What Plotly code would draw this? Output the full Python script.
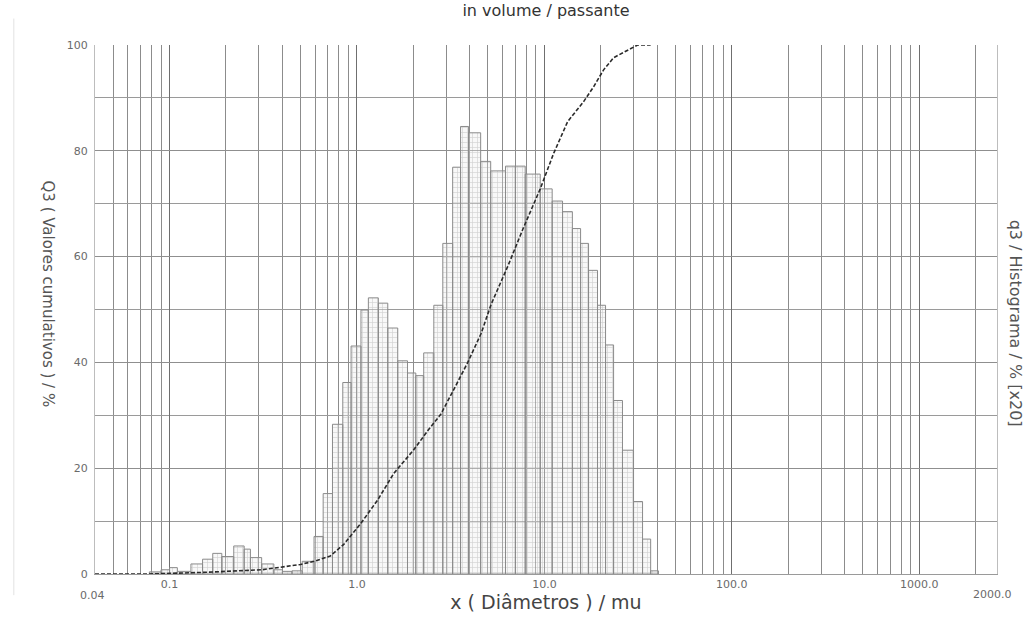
import plotly.graph_objects as go

# Particle size classes (µm) and histogram values q3 (scaled x20, %)
class_edges = [0.078, 0.090, 0.10, 0.11, 0.13, 0.15, 0.17, 0.19, 0.22, 0.25,
               0.27, 0.31, 0.36, 0.40, 0.45, 0.51, 0.59, 0.66, 0.74, 0.84,
               0.93, 1.05, 1.15, 1.30, 1.46, 1.65, 1.86, 2.06, 2.27, 2.57,
               2.87, 3.24, 3.57, 3.94, 4.57, 5.17, 6.2, 7.0, 7.9, 9.5,
               11.0, 12.5, 14.1, 15.6, 17.2, 19.2, 21.2, 23.4, 26.1, 29.9,
               33.4, 36.9, 40.6]
q3_hist = [0.4, 0.8, 1.2, 0.5, 1.9, 2.8, 3.9, 3.3, 5.3, 4.7,
           3.1, 1.9, 0.8, 0.5, 0.6, 2.4, 7.1, 15.2, 28.3, 36.2,
           43.1, 49.9, 52.2, 51.2, 46.5, 40.3, 38.0, 37.5, 41.8, 50.8,
           62.5, 76.9, 84.6, 83.4, 78.0, 76.2, 77.1, 77.1, 75.6, 72.8,
           70.5, 68.5, 65.3, 62.5, 57.4, 50.8, 43.3, 32.8, 23.4, 13.7,
           6.6, 0.6]

# Cumulative passing curve Q3 (%)
cum_size = [0.04, 0.077, 0.15, 0.31, 0.50, 0.59, 0.72, 0.85, 1.05, 1.29,
            1.57, 2.0, 2.4, 2.8, 3.3, 3.9, 4.6, 5.2, 6.4, 7.7,
            9.5, 11.2, 13.3, 16.2, 18.3, 20.7, 23.4, 27.8, 31.4, 36.9]
cum_q3 = [0, 0, 0.3, 0.8, 1.8, 2.4, 3.4, 5.6, 9.6, 14,
          19, 23.4, 27.2, 30.2, 35, 40, 45.5, 51, 58.3, 65.3,
          72.8, 79.5, 85.5, 89.3, 92.1, 95.3, 97.6, 99, 100, 100]

y_ticks = [0, 20, 40, 60, 80, 100]

# Each histogram class as a closed outlined rectangle
bx, by = [], []
for lo, hi, h in zip(class_edges[:-1], class_edges[1:], q3_hist):
    bx += [lo, lo, hi, hi, lo, None]
    by += [0, h, h, 0, 0, None]

fig = go.Figure()
fig.add_trace(go.Scatter(
    x=bx, y=by, mode="lines", fill="toself",
    line=dict(color="#8a8a8a", width=1),
    fillcolor="rgba(225,225,225,0.35)",
    fillpattern=dict(shape="+", size=5, solidity=0.25,
                     fgcolor="rgba(150,150,150,0.75)", bgcolor="rgba(235,235,235,0.35)"),
    hoverinfo="skip", showlegend=False,
))
fig.add_trace(go.Scatter(
    x=cum_size, y=cum_q3, mode="lines",
    line=dict(color="#2a2a2a", width=1.6, dash="4px,2px"),
    showlegend=False,
))

grid_font = dict(family="DejaVu Sans", size=11, color="#6a6a6a")

fig.update_xaxes(
    type="log", range=[-1.3979, 3.415], dtick=1, tickformat=".1f",
    showgrid=True, gridcolor="#6f6f6f", gridwidth=1,
    minor=dict(dtick="D1", showgrid=True, gridcolor="#8c8c8c", gridwidth=1, ticks=""),
    ticks="", tickfont=grid_font, zeroline=False,
    showline=True, linecolor="#9a9a9a", linewidth=1, mirror=False,
    title=dict(text="x ( Diâmetros ) / mu", standoff=2,
               font=dict(family="DejaVu Sans", size=19, color="#444")),
)
fig.update_yaxes(
    range=[0, 100], tickvals=y_ticks, ticks="",
    showgrid=True, gridcolor="#8f8f8f", gridwidth=1,
    minor=dict(dtick=10, showgrid=True, gridcolor="#9a9a9a", gridwidth=1, ticks=""),
    tickfont=grid_font, zeroline=False, ticklabelstandoff=4,
    showline=True, linecolor="#bdbdbd", linewidth=1, mirror=True,
)

fig.update_layout(
    width=1035, height=619, autosize=False,
    margin=dict(l=95, r=38, t=45, b=41),
    paper_bgcolor="white", plot_bgcolor="white",
    title=dict(text="in volume / passante", x=0.5, xref="paper", y=0.992,
               yanchor="top", font=dict(family="DejaVu Sans", size=16, color="#333")),
    annotations=[
        dict(text="Q3 ( Valores cumulativos ) / %", textangle=90,
             xref="paper", yref="paper", x=-0.052, y=0.53, showarrow=False,
             xanchor="center", yanchor="middle",
             font=dict(family="DejaVu Sans", size=15, color="#555")),
        dict(text="q3 / Histograma / % [x20]", textangle=90,
             xref="paper", yref="paper", x=1.02, y=0.475, showarrow=False,
             xanchor="center", yanchor="middle",
             font=dict(family="DejaVu Sans", size=16, color="#555")),
        dict(text="0.04", xref="paper", yref="paper", x=-0.003, y=-0.025,
             showarrow=False, xanchor="center", yanchor="top", font=grid_font),
        dict(text="2000.0", xref="paper", yref="paper", x=0.995, y=-0.023,
             showarrow=False, xanchor="center", yanchor="top", font=grid_font),
    ],
    shapes=[
        dict(type="line", xref="paper", yref="paper", x0=-0.09, x1=-0.09,
             y0=-0.04, y1=1.05, line=dict(color="#e2e2e2", width=1)),
    ],
)

fig.write_html("out.html")
